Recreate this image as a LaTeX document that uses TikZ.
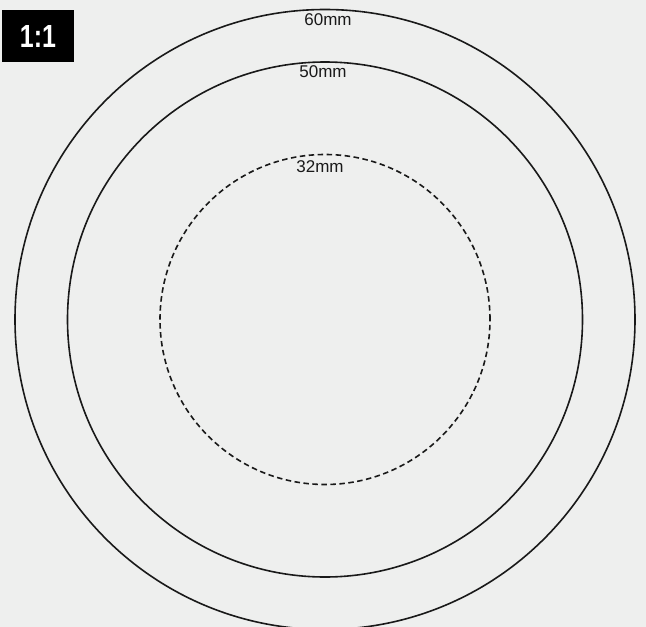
\documentclass[tikz,border=0pt]{standalone}
\usepackage{fontspec}
\setmainfont{Liberation Sans}
\definecolor{paper}{RGB}{238,239,238}
\definecolor{ink}{RGB}{25,25,25}
\begin{document}
\begin{tikzpicture}[x=1pt,y=-1pt,
  ring/.style={circle, draw=ink, line width=1.6pt, inner sep=0pt},
  dashring/.style={ring, dash pattern=on 5.5pt off 3.5pt},
  lbl/.style={font=\fontsize{17}{17}\selectfont, text=ink, inner sep=0pt}]
  \fill[paper] (0,0) rectangle (646,627);
  \useasboundingbox (0,0) rectangle (646,627);
  \coordinate (c) at (325,319.5);
  \node[ring, minimum size=620pt] (outer) at (c) {};
  \node[ring, minimum size=515pt] (middle) at (c) {};
  \node[dashring, minimum size=330pt] (inner) at (c) {};
  \node[lbl] (l60) at (328,20) {60mm};
  \node[lbl] (l50) at (323,72) {50mm};
  \node[lbl] (l32) at (320,167) {32mm};
  \node[fill=black, minimum width=72pt, minimum height=52pt, inner sep=0pt,
        text=white, font=\bfseries\fontsize{32}{32}\selectfont] (scale) at (38,36) {\scalebox{0.78}[1]{1:1}};
\end{tikzpicture}
\end{document}
